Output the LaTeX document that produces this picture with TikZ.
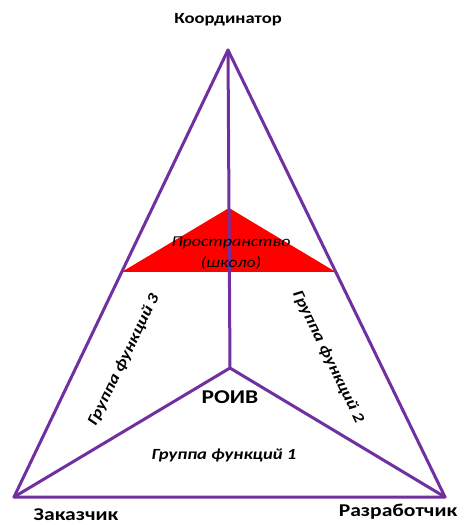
\documentclass[tikz,border=0pt]{standalone}
\usepackage{fontspec}
\setmainfont[FakeStretch=1.2]{Carlito}
\usetikzlibrary{calc}
\definecolor{roivpurple}{HTML}{7030A0}
\begin{document}
\begin{tikzpicture}[x=1pt,y=-1pt,
  edge/.style={roivpurple,line width=3pt,line cap=round,line join=round},
  role/.style={font=\bfseries\fontsize{15.5}{17}\selectfont,inner sep=0pt},
  group/.style={font=\bfseries\itshape\fontsize{15.5}{17}\selectfont,inner sep=0pt}]
  \useasboundingbox (0,0) rectangle (465,525);
  % vertices of the big triangle and the inner point
  \coordinate (koord) at (228,50);
  \coordinate (zak) at (14,497);
  \coordinate (razr) at (445,497);
  \coordinate (roiv) at (230,368);
  % red space triangle
  \coordinate (spTop) at (229,208);
  \coordinate (spL) at ($(koord)!0.4966!(zak)$);
  \coordinate (spR) at ($(koord)!0.4966!(razr)$);
  \fill[red] (spTop) -- (spL) -- (spR) -- cycle;
  \draw[edge] (koord) -- (zak) -- (razr) -- cycle;
  \draw[edge] (roiv) -- (koord) (roiv) -- (zak) (roiv) -- (razr);
  % labels
  \node[role] (tKoord) at (228,20) {Координатор};
  \node[role,font=\bfseries\fontsize{18}{20}\selectfont] (tZak) at (76,515) {Заказчик};
  \node[role,font=\bfseries\fontsize{18}{20}\selectfont] (tRazr) at (398,512) {Разработчик};
  \node[role,font=\bfseries\fontsize{19.5}{22}\selectfont] (tRoiv) at (230,397) {РОИВ};
  \node[group] (tG1) at (224,455) {Группа функций 1};
  \node[group,rotate=-64] (tG2) at (328,357) {Группа функций 2};
  \node[group,rotate=64] (tG3) at (124,360) {Группа функций 3};
  \node[font=\itshape\fontsize{15}{21}\selectfont,align=center,inner sep=0pt] (tSpace) at (231,253) {Пространство\\(школо)};
\end{tikzpicture}
\end{document}
